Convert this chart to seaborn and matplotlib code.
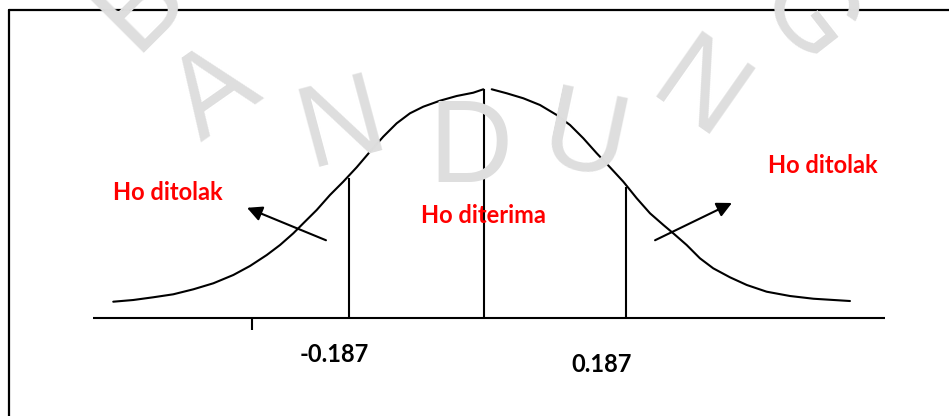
import numpy as np
import pandas as pd
import matplotlib
matplotlib.use("Agg")
import matplotlib.pyplot as plt
import seaborn as sns

# curve (z units, density), split at the small gap near the top
left_z = [-2.874, -2.719, -2.564, -2.409, -2.253, -2.098, -1.943, -1.814, -1.684,
          -1.581, -1.478, -1.401, -1.297, -1.194, -1.091, -0.987, -0.884, -0.781,
          -0.677, -0.574, -0.471, -0.341, -0.212, -0.083, -0.005]
left_d = [0.0306, 0.0338, 0.0389, 0.0445, 0.0539, 0.0652, 0.0808, 0.0977, 0.1183,
          0.1371, 0.1591, 0.1778, 0.2028, 0.2310, 0.2560, 0.2830, 0.3123, 0.3405,
          0.3656, 0.3844, 0.3968, 0.4081, 0.4169, 0.4231, 0.4295]
right_z = [0.060, 0.176, 0.305, 0.434, 0.564, 0.667, 0.770, 0.874, 0.977, 1.080,
           1.184, 1.287, 1.391, 1.467, 1.571, 1.674, 1.777, 1.907, 2.037, 2.191,
           2.372, 2.553, 2.837]
right_d = [0.4295, 0.4220, 0.4126, 0.4000, 0.3812, 0.3624, 0.3375, 0.3093, 0.2830,
           0.2560, 0.2248, 0.1966, 0.1746, 0.1591, 0.1371, 0.1121, 0.0933, 0.0764,
           0.0620, 0.0494, 0.0413, 0.0362, 0.0319]

# vertical lines: critical values and centre
line_z = [-1.047, 0.000, 1.101]
line_top = [0.263, 0.430, 0.246]

# axis line and the single tick
axis_z = [-3.031, 3.109]
tick_z = -1.798

# labels
region_labels = ["Ho ditolak", "Ho diterima", "Ho ditolak"]
region_z = [-2.453, -0.004, 2.624]
region_d = [0.235, 0.193, 0.287]
crit_labels = ["-0.187", "0.187"]
crit_z = [-1.163, 0.911]
crit_d = [-0.068, -0.088]

# arrows (tail -> head)
arrow_tail = [(-1.225, 0.146), (1.326, 0.146)]
arrow_head = [(-1.837, 0.207), (1.922, 0.216)]

# watermark letters
wm_letters = ["B", "A", "N", "D", "U", "N", "G"]
wm_pos = [(140, 4), (215, 95), (342, 127), (470, 152), (585, 142), (697, 95), (805, 17)]
wm_rot = [45, 35, 15, 0, -12, -35, -52]

sns.set_style("white")
plt.rcParams["font.family"] = ["Lato", "DejaVu Sans"]

W, H = 949, 416
fig = plt.figure(figsize=(W / 100, H / 100), dpi=100)
ax = fig.add_axes([0, 0, 1, 1])

# watermark first so it sits underneath
for letter, (px, py), rot in zip(wm_letters, wm_pos, wm_rot):
    fig.text(px / W, 1 - py / H, letter, fontsize=84, color="#dedede",
             family="Liberation Sans", rotation=rot, ha="center", va="center",
             zorder=0)

curve_left = pd.DataFrame({"z": left_z, "d": left_d})
curve_right = pd.DataFrame({"z": right_z, "d": right_d})
sns.lineplot(data=curve_left, x="z", y="d", color="black", lw=1.5, ax=ax, sort=False)
sns.lineplot(data=curve_right, x="z", y="d", color="black", lw=1.5, ax=ax, sort=False)

ax.vlines(line_z, 0, line_top, color="black", lw=1.5)
ax.hlines(0, axis_z[0], axis_z[1], color="black", lw=1.5)
ax.vlines(tick_z, -0.0225, 0, color="black", lw=1.5)

for (tx, ty), (hx, hy) in zip(arrow_tail, arrow_head):
    ax.annotate("", xy=(hx, hy), xytext=(tx, ty),
                arrowprops=dict(arrowstyle="-|>,head_length=0.9,head_width=0.45",
                                color="black", lw=1.5, shrinkA=0, shrinkB=0))

for lab, x, y in zip(region_labels, region_z, region_d):
    ax.text(x, y, lab, color="#ff0000", fontsize=17, fontweight="bold",
            ha="center", va="center")
for lab, x, y in zip(crit_labels, crit_z, crit_d):
    ax.text(x, y, lab, color="black", fontsize=17, fontweight="bold",
            ha="center", va="center")

# pixel -> data mapping: 129 px per z unit, 532.5 px per density unit
ax.set_xlim((0 - 484) / 129, (W - 484) / 129)
ax.set_ylim((318 - H) / 532.5, 318 / 532.5)
ax.set_axis_off()

# open frame: left and top edges
fx0, fy0 = (9 - 484) / 129, (318 - 10) / 532.5
ax.plot([fx0, fx0], [fy0, (318 - H) / 532.5], color="black", lw=1.6, clip_on=False)
ax.plot([fx0, (W - 484) / 129], [fy0, fy0], color="black", lw=1.6, clip_on=False)

fig.savefig("out.png", dpi=100)
